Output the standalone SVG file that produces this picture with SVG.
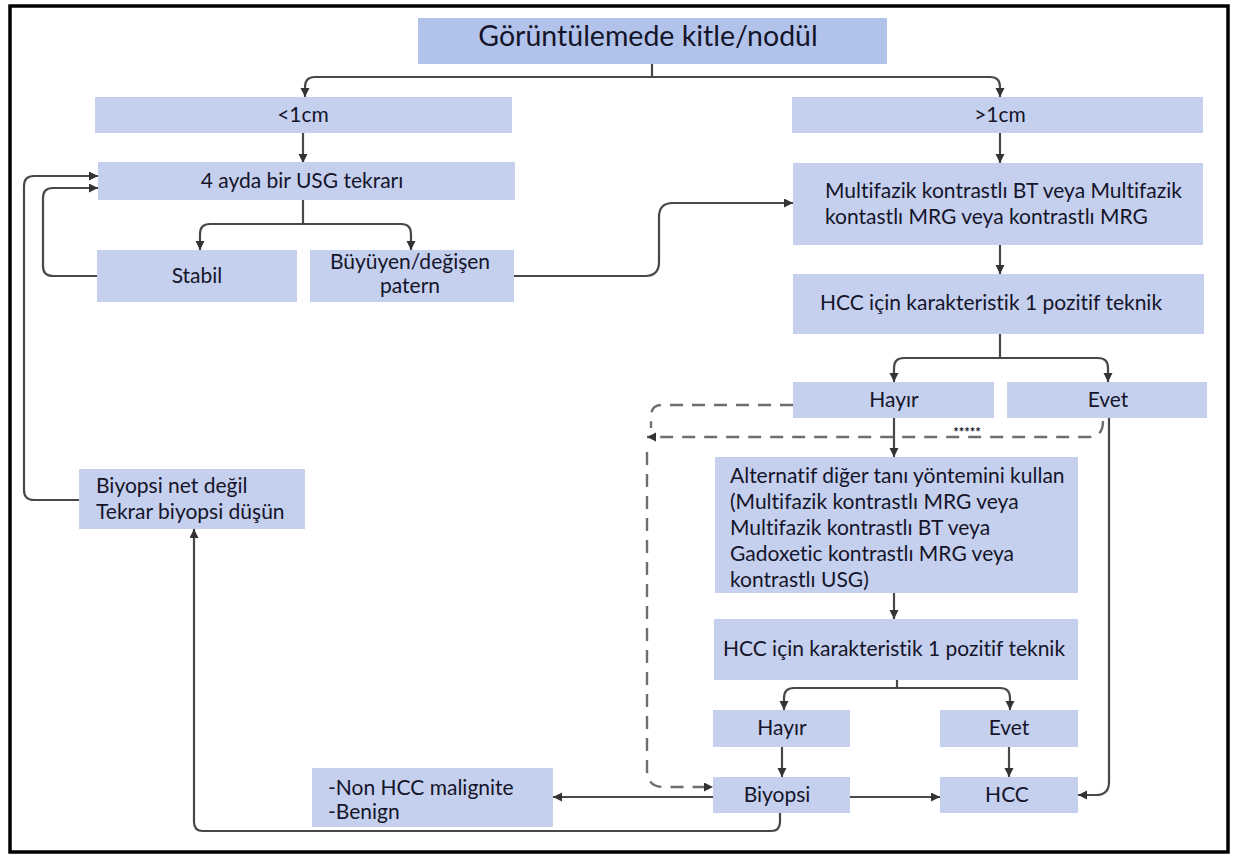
<svg xmlns="http://www.w3.org/2000/svg" width="1234" height="857" viewBox="0 0 1234 857">
<defs>
<marker id="ah" markerUnits="userSpaceOnUse" markerWidth="10" markerHeight="10" refX="9" refY="4.5" orient="auto">
<path d="M0,0 L9,4.5 L0,9 z" fill="#333"/>
</marker>
<style>
.box{fill:#c5d0ef;}
.ttl{fill:#b2c3eb;}
.t{font-family:Lato,"Liberation Sans",sans-serif;font-size:21px;fill:#15152a;font-variant-ligatures:none;}
.c{text-anchor:middle;}
.ln{fill:none;stroke:#484848;stroke-width:2.2;}
.ar{marker-end:url(#ah);}
.ds{fill:none;stroke:#6e6e6e;stroke-width:2.4;stroke-dasharray:13,9;}
</style>
</defs>
<rect x="0" y="0" width="1234" height="857" fill="#fff"/>
<rect x="10" y="6" width="1218" height="846" fill="none" stroke="#000" stroke-width="3.5"/>

<g id="connectors">
<path class="ln" d="M652,64 V77"/>
<path class="ln ar" d="M652,77 H315 Q305,77 305,87 V97"/>
<path class="ln ar" d="M652,77 H990 Q1000,77 1000,87 V97"/>
<path class="ln ar" d="M303,133 V163"/>
<path class="ln" d="M303,200 V224"/>
<path class="ln ar" d="M303,224 H210 Q200,224 200,234 V250"/>
<path class="ln ar" d="M303,224 H401 Q411,224 411,234 V250"/>
<path class="ln ar" d="M97,276 H53 Q43,276 43,266 V198 Q43,188 53,188 H98"/>
<path class="ln ar" d="M79,500 H34 Q24,500 24,490 V186 Q24,176 34,176 H98"/>
<path class="ln ar" d="M514,276 H645 Q659,276 659,262 V217 Q659,203 673,203 H793"/>
<path class="ln ar" d="M1000,133 V163"/>
<path class="ln ar" d="M1000,245 V274"/>
<path class="ln" d="M1000,334 V358"/>
<path class="ln ar" d="M1000,358 H904 Q894,358 894,368 V382"/>
<path class="ln ar" d="M1000,358 H1098 Q1108,358 1108,368 V382"/>
<path class="ln ar" d="M894,418 V457"/>
<path class="ds" d="M793,405 H662 Q651,405 651,416 V428"/>
<path class="ds ar" d="M1103,421 Q1103,437 1089,437 H647"/>
<path class="ds ar" d="M647,452 V770 Q647,787 664,787 H713"/>
<path class="ln ar" d="M1109,418 V782 Q1109,795 1096,795 H1078"/>
<path class="ln ar" d="M894,593 V619"/>
<path class="ln" d="M897,680 V688"/>
<path class="ln ar" d="M897,688 H794 Q784,688 784,698 V710"/>
<path class="ln ar" d="M897,688 H1000 Q1010,688 1010,698 V710"/>
<path class="ln ar" d="M782,747 V777"/>
<path class="ln ar" d="M1009,747 V777"/>
<path class="ln ar" d="M850,797 H940"/>
<path class="ln ar" d="M713,797 H553"/>
<path class="ln ar" d="M780,813 V822 Q780,831 771,831 H203 Q194,831 194,822 V529"/>
<text class="t c" x="967" y="437" style="font-size:13px;font-weight:bold">*****</text>
</g>

<g id="title"><rect class="ttl" x="418" y="18" width="469" height="46"/><text class="t c" x="648" y="46" style="font-size:28.5px">Görüntülemede kitle/nodül</text></g>
<g id="lt1"><rect class="box" x="95" y="97" width="417" height="36"/><text class="t c" x="303" y="122">&lt;1cm</text></g>
<g id="gt1"><rect class="box" x="792" y="97" width="411" height="36"/><text class="t c" x="1000" y="122">&gt;1cm</text></g>
<g id="usg"><rect class="box" x="98" y="162" width="417" height="38"/><text class="t c" x="302" y="188">4 ayda bir USG tekrarı</text></g>
<g id="stabil"><rect class="box" x="97" y="250" width="200" height="52"/><text class="t c" x="197" y="283">Stabil</text></g>
<g id="buyuyen"><rect class="box" x="310" y="250" width="204" height="52"/><text class="t c" x="410" y="269">Büyüyen/değişen</text><text class="t c" x="410" y="293">patern</text></g>
<g id="multifazik"><rect class="box" x="793" y="163" width="410" height="82"/><text class="t" x="825" y="198">Multifazik kontrastlı BT veya Multifazik</text><text class="t" x="825" y="224">kontastlı MRG veya kontrastlı MRG</text></g>
<g id="hcc1"><rect class="box" x="793" y="274" width="411" height="60"/><text class="t c" x="991" y="310">HCC için karakteristik 1 pozitif teknik</text></g>
<g id="hayir1"><rect class="box" x="793" y="382" width="201" height="36"/><text class="t c" x="894" y="407">Hayır</text></g>
<g id="evet1"><rect class="box" x="1007" y="382" width="200" height="36"/><text class="t c" x="1108" y="407">Evet</text></g>
<g id="alternatif"><rect class="box" x="715" y="457" width="363" height="136"/>
<text class="t" x="730" y="483">Alternatif diğer tanı yöntemini kullan</text>
<text class="t" x="730" y="509">(Multifazik kontrastlı MRG veya</text>
<text class="t" x="730" y="535">Multifazik kontrastlı BT veya</text>
<text class="t" x="730" y="561">Gadoxetic kontrastlı MRG veya</text>
<text class="t" x="730" y="587">kontrastlı USG)</text></g>
<g id="hcc2"><rect class="box" x="714" y="619" width="364" height="61"/><text class="t c" x="894" y="656">HCC için karakteristik 1 pozitif teknik</text></g>
<g id="hayir2"><rect class="box" x="713" y="710" width="137" height="37"/><text class="t c" x="782" y="735">Hayır</text></g>
<g id="evet2"><rect class="box" x="940" y="710" width="138" height="37"/><text class="t c" x="1009" y="735">Evet</text></g>
<g id="biyopsi"><rect class="box" x="713" y="777" width="137" height="36"/><text class="t c" x="777" y="802">Biyopsi</text></g>
<g id="hcc"><rect class="box" x="940" y="777" width="138" height="36"/><text class="t c" x="1007" y="802">HCC</text></g>
<g id="nonhcc"><rect class="box" x="312" y="768" width="241" height="59"/><text class="t" x="328" y="795">-Non HCC malignite</text><text class="t" x="328" y="819">-Benign</text></g>
<g id="biyopsinet"><rect class="box" x="79" y="469" width="226" height="60"/><text class="t" x="96" y="493">Biyopsi net değil</text><text class="t" x="96" y="519">Tekrar biyopsi düşün</text></g>
</svg>
